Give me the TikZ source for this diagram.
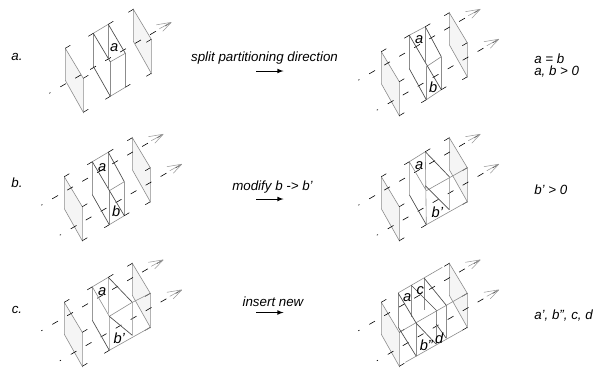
\documentclass[tikz,border=0pt]{standalone}
\usepackage{fontspec}
\setmainfont{Liberation Sans}
\definecolor{planefill}{gray}{0.96}
\definecolor{edgegray}{gray}{0.55}
\tikzset{x=0.75pt,y=-0.75pt,
	edge/.style={draw=edgegray,line width=0.45pt},
	dark/.style={draw=black!70,line width=0.5pt},
	lite/.style={draw=black!40,line width=0.4pt},
	axisline/.style={draw=black,line width=0.45pt,dash pattern=on 1pt off 8.5pt on 5pt off 8pt on 5pt off 8pt on 5pt off 8pt on 5pt off 8pt on 5pt off 8pt on 5pt off 8pt on 5pt off 8pt on 5pt off 8pt},
	tickline/.style={draw=black,line width=0.4pt},
	lbl/.style={font=\itshape\fontsize{11}{11}\selectfont,inner sep=0pt},
	rowtext/.style={font=\itshape\fontsize{10}{10}\selectfont,inner sep=0pt},
	sidetext/.style={font=\itshape\fontsize{10}{8.3}\selectfont,inner sep=0pt,anchor=west,align=left}}
% outer plane with top corner at (#1,#2)
\newcommand{\outerplane}[2]{\draw[edge,fill=planefill] (#1,#2) -- ++(18,30) -- ++(0,34) -- ++(-18,-32) -- cycle;}
% one axis: start point, then open arrow at its tip
\newcommand{\axisarrow}[2]{
	\draw[axisline] (#1,#2) -- ++(122,-71);
	\draw[lite] (#1+122,#2-71) -- ++(-15,2.5) (#1+122,#2-71) -- ++(-8.5,9) (#1+122,#2-71) -- ++(-12,6.5);}
\newcommand{\planetick}[4]{\draw[tickline] (#1,#2) -- ++(#3,#4);}
% the ticks at the corners of the two outer planes
\newcommand{\outerticks}{
	\planetick{0}{0}{5}{-3} \planetick{18}{30}{5}{-3} \planetick{18}{64}{5}{-3}
	\planetick{68}{-39}{-5}{3} \planetick{86}{-9}{-5}{3} \planetick{86}{25}{-5}{3}}
\newcommand{\bothaxes}{\axisarrow{-23}{28.5}\axisarrow{-4.5}{58.5}}
\begin{document}
\begin{tikzpicture}
	\useasboundingbox (0,0) rectangle (602,369);
	% row a, left
	\begin{scope}[shift={(65.3,48.3)}]
		\outerplane{0}{0}\outerplane{68}{-39}\outerticks
		\axisarrow{-16}{45}
		\draw[edge] (28,-15) -- (43,-24) (45,13.5) -- (60,5) (45,48) -- (60,39);
		\draw[edge] (28,-15) -- (28,18) (43,-24) -- (43,11) (45,13) -- (45,48) (60,5) -- (60,39);
		\draw[dark] (28,-15) -- (45,13.5) (28,18) -- (45,48) (43,-24) -- (60,5);
		\planetick{28}{-15}{-5}{3}\planetick{43}{-24}{5}{-3}\planetick{45}{48}{-5}{3}\planetick{60}{39}{5}{-3}
		\node[lbl] (la) at (49,-1) {a};
	\end{scope}
	% row b, left
	\begin{scope}[shift={(64.3,176.7)}]
		\outerplane{0}{0}\outerplane{68}{-39}\outerticks\bothaxes
		\draw[edge] (28,-15) -- (44,-24.5) (45,14) -- (60,5) (45,48) -- (60,39);
		\draw[lite] (28,-15) -- (28,18) (60,5) -- (60,39);
		\draw[edge] (44,-24.5) -- (44,11) (45,14) -- (45,48);
		\draw[dark] (28,-15) -- (60,39) (28,18) -- (45,48) (44,-24.5) -- (60,5);
		\planetick{28}{-15}{-5}{3}\planetick{44}{-24.5}{5}{-3}\planetick{45}{48}{-5}{3}\planetick{60}{39}{5}{-3}
		\node[lbl] (lb) at (38,-9) {a};
		\node[lbl] (lc) at (52,35) {b};
	\end{scope}
	% row c, left
	\begin{scope}[shift={(64.3,302.3)}]
		\outerplane{0}{0}\outerplane{68}{-39}\outerticks\bothaxes
		\draw[edge] (28,-15.5) -- (44,-25) (45,14) -- (68,0) -- (86,-9) (45,48) -- (86,25);
		\draw[lite] (28,-15.5) -- (28,18);
		\draw[edge] (45,14) -- (28,-15.5) (44,-25) -- (44,11) (45,14) -- (45,48) (68,0) -- (68,33);
		\draw[dark] (44,-25) -- (68,0) (28,18) -- (45,48) (45,14) -- (68,33);
		\planetick{28}{-15.5}{-5}{3}\planetick{44}{-25}{5}{-3}\planetick{45}{48}{-5}{3}
		\node[lbl] (ld) at (38,-11) {a};
		\node[lbl] (le) at (55,36) {b'};
	\end{scope}
	% row a, right
	\begin{scope}[shift={(381.3,51.7)}]
		\outerplane{0}{0}\outerplane{68}{-39}\outerticks\bothaxes
		\draw[edge] (28,-16.5) -- (44,-25) (45,15) -- (60,5) (45,48) -- (60,38);
		\draw[edge] (28,-16.5) -- (28,17) (44,-25) -- (44,10) (45,15) -- (45,48) (60,5) -- (60,38);
		\draw[dark] (28,-16.5) -- (60,38) (28,17) -- (45,48) (44,-25) -- (60,5);
		\planetick{28}{-16.5}{-5}{3}\planetick{44}{-25}{5}{-3}\planetick{45}{48}{-5}{3}\planetick{60}{38}{5}{-3}
		\node[lbl] (lf) at (38,-12) {a};
		\node[lbl] (lg) at (52,36) {b};
	\end{scope}
	% row b, right
	\begin{scope}[shift={(381.3,176.7)}]
		\outerplane{0}{0}\outerplane{68}{-39}\outerticks\bothaxes
		\draw[edge] (28,-15) -- (44,-25) (45,14) -- (86,-9) (45,48) -- (86,25);
		\draw[edge] (28,-15) -- (28,18) (28,-15) -- (45,14) (44,-25) -- (45,48) (68,0) -- (68,33);
		\draw[dark] (44,-25) -- (68,0) (28,18) -- (45,48) (44,9) -- (68,33);
		\planetick{28}{-15}{-5}{3}\planetick{44}{-25}{5}{-3}\planetick{45}{48}{-5}{3}
		\node[lbl] (lh) at (38,-11) {a};
		\node[lbl] (li) at (56,36) {b'};
	\end{scope}
	% row c, right
	\begin{scope}[shift={(381.3,302.3)}]
		\outerplane{0}{0}\outerplane{68}{-39}\outerticks\bothaxes
		\draw[edge] (17,-9.5) -- (61,-35) (18,30) -- (86,-9) (24,60) -- (81,28);
		\draw[edge] (17,-9) -- (17,25) (30,-17) -- (30,15) (43,-24) -- (43,8)
			(35,21) -- (35,54) (55,8) -- (55,42) (65,3) -- (65,36);
		\draw[dark] (17,-9) -- (35,21) (30,-17) -- (55,8) (43,-24) -- (65,3)
			(17,25) -- (35,54) (35,21) -- (55,42) (55,22) -- (65,36);
		\node[lbl] (lj) at (26,-5) {a};
		\node[lbl] (lk) at (39,-12) {c};
		\node[lbl] (ll) at (45,43) {b''};
		\node[lbl] (lm) at (58,36) {d};
	\end{scope}
	% row letters
	\node[rowtext] (ra) at (17,57) {a.};
	\node[rowtext] (rb) at (17,183) {b.};
	\node[rowtext] (rc) at (17,310) {c.};
	% operations
	\node[rowtext] (oa) at (264.5,58) {split partitioning direction};
	\node[rowtext] (ob) at (272.5,187) {modify b -> b'};
	\node[rowtext] (oc) at (273,302) {insert new};
	\coordinate (aa) at (256,71); \coordinate (ab) at (283.5,71);
	\coordinate (ba) at (256,199); \coordinate (bb) at (283.5,199);
	\coordinate (ca) at (256,312.5); \coordinate (cb) at (283.5,312.5);
	\draw[-latex,line width=0.6pt] (aa) -- (ab);
	\draw[-latex,line width=0.6pt] (ba) -- (bb);
	\draw[-latex,line width=0.6pt] (ca) -- (cb);
	% conditions
	\node[sidetext] (sa) at (534,65.5) {a = b\\a, b > 0};
	\node[sidetext] (sb) at (534,190) {b' > 0};
	\node[sidetext] (sc) at (534,316) {a', b'', c, d};
\end{tikzpicture}
\end{document}
